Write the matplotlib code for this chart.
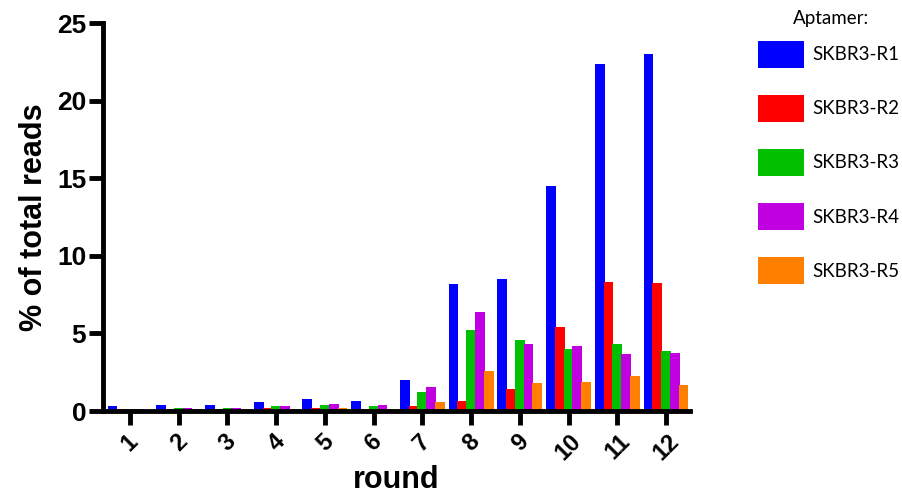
import numpy as np
import matplotlib
matplotlib.use('Agg')
import matplotlib.pyplot as plt
from matplotlib.patches import Patch

rounds = [str(i) for i in range(1, 13)]
aptamers = ['SKBR3-R1', 'SKBR3-R2', 'SKBR3-R3', 'SKBR3-R4', 'SKBR3-R5']
r1 = [0.3, 0.4, 0.4, 0.6, 0.8, 0.65, 2.0, 8.2, 8.5, 14.5, 22.4, 23.0]
r2 = [0.1, 0.1, 0.1, 0.2, 0.2, 0.15, 0.3, 0.65, 1.4, 5.4, 8.3, 8.25]
r3 = [0.1, 0.2, 0.2, 0.3, 0.4, 0.3, 1.2, 5.2, 4.6, 4.0, 4.35, 3.9]
r4 = [0.1, 0.2, 0.2, 0.3, 0.45, 0.4, 1.55, 6.4, 4.35, 4.2, 3.65, 3.75]
r5 = [0.05, 0.1, 0.1, 0.1, 0.2, 0.1, 0.6, 2.6, 1.8, 1.9, 2.25, 1.65]
series = [r1, r2, r3, r4, r5]
colors = ['#0000ff', '#ff0000', '#00c000', '#c000e0', '#ff8000']

plt.rcParams['font.family'] = 'Liberation Sans'

fig = plt.figure(figsize=(9.03, 5.04), dpi=100)
ax = fig.add_axes([0.114, 0.1845, 0.65, 0.7695])

x = np.arange(1, 13)
for i, vals in enumerate(series):
    ax.bar(x + (i - 2) * 0.18, vals, 0.2, color=colors[i], label=aptamers[i])

ax.set_xlim(0.445, 12.49)
ax.set_ylim(0, 25)
ax.set_yticks(range(0, 26, 5))
ax.set_xticks(x)
ax.set_xticklabels(rounds, rotation=45, fontsize=17, fontweight='bold')
for lbl in ax.get_yticklabels():
    lbl.set_fontsize(19)
    lbl.set_fontweight('bold')
ax.tick_params(width=3.5, length=10, direction='out')
ax.tick_params(axis='y', pad=2)

for side in ['top', 'right']:
    ax.spines[side].set_visible(False)
for side in ['left', 'bottom']:
    ax.spines[side].set_linewidth(3.5)

ax.set_ylabel('% of total reads', fontsize=22, fontweight='bold', labelpad=6)
ax.set_xlabel('round', fontsize=22, fontweight='bold', labelpad=0)

# legend: title as separate text so the gap can match
fig.text(0.92, 0.964, 'Aptamer:', family='Lato', fontsize=13.5,
         ha='center', va='center')
handles = [Patch(facecolor=c) for c in colors]
fig.legend(handles, aptamers, loc='upper left', bbox_to_anchor=(0.839, 0.919),
           frameon=False, prop={'family': 'Lato', 'size': 13.5},
           handlelength=2.5, handleheight=1.83, labelspacing=1.45,
           handletextpad=0.43, borderaxespad=0, borderpad=0)

fig.savefig('out.png', dpi=100)
